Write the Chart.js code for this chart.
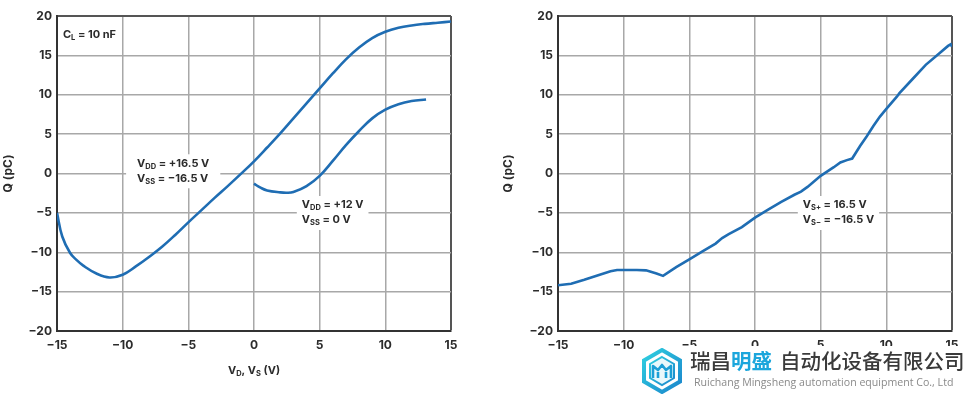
<!DOCTYPE html>
<html>
<head>
<meta charset="utf-8">
<script src="https://cdn.jsdelivr.net/npm/chart.js@4.4.1/dist/chart.umd.min.js"></script>
<style>
  html, body { margin: 0; padding: 0; background: #fff; }
  body { width: 969px; height: 395px; position: relative; overflow: hidden; font-family: Inter, sans-serif; }
  .panel { position: absolute; top: 0; height: 395px; }
  #leftPanel { left: 0; width: 470px; }
  #rightPanel { left: 500px; width: 469px; }
  #logo { position: absolute; left: 638px; top: 346px; width: 331px; height: 49px; background: #fff; }
  #logo svg { position: absolute; left: 1px; top: 2px; }
  #logoName { position: absolute; left: 52px; top: 2px; font-family: "Noto Sans CJK SC", sans-serif; font-size: 20.5px; line-height: 25px; color: #3a3a3a; white-space: nowrap; font-weight: 500; }
  #logoName .hl { color: #1ba6dc; font-weight: 700; margin-right: 8px; }
  #logoSub { position: absolute; left: 56px; top: 30px; font-family: "Open Sans", sans-serif; font-size: 10.6px; line-height: 13px; color: #8a8a8a; white-space: nowrap; }
</style>
</head>
<body>
<div class="panel" id="leftPanel"><canvas id="leftChart"></canvas></div>
<div class="panel" id="rightPanel"><canvas id="rightChart"></canvas></div>
<div id="logo">
  <svg width="46" height="46" viewBox="0 0 46 46">
    <defs>
      <linearGradient id="hexGrad" x1="0" y1="0" x2="1" y2="1">
        <stop offset="0" stop-color="#2fd0e0"/>
        <stop offset="1" stop-color="#1b86cc"/>
      </linearGradient>
    </defs>
    <polygon points="23,2 41,12.5 41,33.5 23,44 5,33.5 5,12.5" fill="none" stroke="url(#hexGrad)" stroke-width="4"/>
    <polygon points="23,9 35,16 35,30 23,37 11,30 11,16" fill="#e8f8fb" stroke="url(#hexGrad)" stroke-width="2"/>
    <path d="M14,30 L14,18 L19,22 L23,17 L27,22 L32,18 L32,30 M19,30 L19,24 M27,30 L27,24" fill="none" stroke="#1b9fd6" stroke-width="2.6" stroke-linejoin="round"/>
  </svg>
  <div id="logoName">瑞昌<span class="hl">明盛</span>自动化设备有限公司</div>
  <div id="logoSub">Ruichang Mingsheng automation equipment Co., Ltd</div>
</div>
<script>
// Carga inyectada Q vs V_D/V_S (dos gráficas)

// Gráfica izquierda: V_DD = +16.5 V / V_SS = -16.5 V
const dualX = [-15, -14.6, -14, -13.5, -13, -12, -11, -10, -9, -8, -7, -6, -5, -4, -3, -2, -1, 0, 1, 2, 3, 4, 5, 6, 7, 8, 9, 10, 11, 12, 13, 14, 15];
const dualQ = [-5.0, -8.0, -10.1, -11.0, -11.7, -12.7, -13.2, -12.85, -11.8, -10.6, -9.3, -7.8, -6.2, -4.65, -3.1, -1.6, -0.05, 1.55, 3.3, 5.1, 7.0, 8.9, 10.8, 12.7, 14.5, 16.0, 17.2, 18.0, 18.5, 18.8, 19.0, 19.15, 19.3];

// Gráfica izquierda: V_DD = +12 V / V_SS = 0 V
const singleX = [0, 0.5, 1, 2, 2.5, 3, 4, 5, 6, 7, 8, 9, 10, 11, 12, 13.1];
const singleQ = [-1.3, -1.8, -2.15, -2.4, -2.45, -2.35, -1.6, -0.3, 1.6, 3.6, 5.4, 7.0, 8.1, 8.8, 9.2, 9.4];

// Gráfica derecha: V_S+ = 16.5 V / V_S- = -16.5 V
const splitX = [-15, -14.5, -14, -13, -12, -11, -10.5, -10, -9, -8.3, -7.5, -7, -6, -5, -4, -3, -2.5, -2, -1, 0, 1, 2, 3, 3.5, 4, 5, 6, 6.5, 7, 7.4, 8, 8.5, 9, 9.5, 10, 10.8, 11, 12, 13, 14, 14.7, 14.9, 15];
const splitQ = [-14.2, -14.1, -14.0, -13.5, -12.95, -12.4, -12.25, -12.25, -12.25, -12.3, -12.7, -13.0, -11.9, -10.9, -9.9, -8.9, -8.2, -7.7, -6.8, -5.6, -4.6, -3.6, -2.7, -2.3, -1.7, -0.3, 0.8, 1.4, 1.7, 1.9, 3.5, 4.7, 6.0, 7.2, 8.2, 9.75, 10.2, 12.0, 13.8, 15.2, 16.2, 16.4, 16.1];

const xTicks = [-15, -10, -5, 0, 5, 10, 15];
const yTicks = [-20, -15, -10, -5, 0, 5, 10, 15, 20];

const lineColor = '#1f6db3';
const textColor = '#2b2b2b';
const gridColor = '#a8a8a8';
const edgeColor = '#555';
const noteFont = 'bold 11px Inter, sans-serif';
const noteSubFont = 'bold 7.5px Inter, sans-serif';

function toPoints(xs, ys) {
    return xs.map((x, i) => ({ x: x, y: ys[i] }));
}

function fmtTick(v) {
    return v < 0 ? '\u2212' + Math.abs(v) : String(v);
}

// Texto con subíndices: cada parte es [texto, esSub]
function drawRich(ctx, x, y, parts) {
    let cx = x;
    parts.forEach(p => {
        ctx.font = p[1] ? noteSubFont : noteFont;
        ctx.fillText(p[0], cx, p[1] ? y + 3 : y);
        cx += ctx.measureText(p[0]).width;
    });
    return cx - x;
}

function richWidth(ctx, parts) {
    let w = 0;
    parts.forEach(p => {
        ctx.font = p[1] ? noteSubFont : noteFont;
        w += ctx.measureText(p[0]).width;
    });
    return w;
}

function notesPlugin(notes, xTitle) {
    return {
        id: 'notes',
        beforeDatasetsDraw(chart) {
            const ctx = chart.ctx;
            const xs = chart.scales.x, ys = chart.scales.y;
            ctx.save();
            ctx.textBaseline = 'middle';
            ctx.textAlign = 'left';
            notes.forEach(n => {
                const left = xs.getPixelForValue(n.x);
                const y0 = ys.getPixelForValue(n.y);
                const w = Math.max(...n.lines.map(l => richWidth(ctx, l)));
                const h = n.lines.length * 15;
                if (n.box) {
                    ctx.fillStyle = '#fff';
                    ctx.fillRect(left - n.padX, y0 - 9, w + n.padX * 2, h + 4);
                }
                ctx.fillStyle = textColor;
                n.lines.forEach((l, i) => drawRich(ctx, left, y0 + i * 15, l));
            });
            ctx.restore();
        },
        afterDraw(chart) {
            if (!xTitle) return;
            const ctx = chart.ctx;
            const a = chart.chartArea;
            ctx.save();
            ctx.textBaseline = 'middle';
            ctx.textAlign = 'left';
            ctx.fillStyle = textColor;
            const w = richWidth(ctx, xTitle);
            drawRich(ctx, (a.left + a.right) / 2 - w / 2, 371, xTitle);
            ctx.restore();
        }
    };
}

function buildChart(id, datasets, yAxisWidth, padRight, notes, xTitle) {
    return new Chart(document.getElementById(id), {
        type: 'scatter',
        data: { datasets: datasets },
        options: {
            responsive: true,
            maintainAspectRatio: false,
            animation: false,
            layout: { padding: { left: 0, right: padRight, top: 16, bottom: 0 } },
            plugins: { legend: { display: false }, tooltip: { enabled: false } },
            scales: {
                x: {
                    type: 'linear',
                    min: -15,
                    max: 15,
                    afterBuildTicks: s => { s.ticks = xTicks.map(v => ({ value: v })); },
                    afterFit: s => { s.height = 64; },
                    ticks: {
                        callback: fmtTick,
                        color: textColor,
                        padding: 7,
                        maxRotation: 0,
                        font: { family: 'Inter', size: 12, weight: 'bold' }
                    },
                    grid: {
                        drawTicks: false,
                        color: c => (c.tick && c.tick.value === 15 ? edgeColor : gridColor),
                        lineWidth: c => (c.tick && c.tick.value === 15 ? 2 : 1.5)
                    },
                    border: { color: '#333', width: 2 }
                },
                y: {
                    type: 'linear',
                    min: -20,
                    max: 20,
                    afterBuildTicks: s => { s.ticks = yTicks.map(v => ({ value: v })); },
                    afterFit: s => { s.width = yAxisWidth; },
                    ticks: {
                        callback: fmtTick,
                        color: textColor,
                        padding: 5,
                        font: { family: 'Inter', size: 12, weight: 'bold' }
                    },
                    grid: {
                        drawTicks: false,
                        color: c => (c.tick && c.tick.value === 20 ? edgeColor : gridColor),
                        lineWidth: c => (c.tick && c.tick.value === 20 ? 2 : 1.5)
                    },
                    border: { color: '#333', width: 2 },
                    title: {
                        display: true,
                        text: 'Q (pC)',
                        color: textColor,
                        padding: { top: 1, bottom: 0 },
                        font: { family: 'Inter', size: 12, weight: 'bold' }
                    }
                }
            }
        },
        plugins: [notesPlugin(notes, xTitle)]
    });
}

function lineSet(xs, ys, tension) {
    return {
        data: toPoints(xs, ys),
        showLine: true,
        borderColor: lineColor,
        borderWidth: 2.6,
        pointRadius: 0,
        tension: tension
    };
}

document.addEventListener('DOMContentLoaded', function() {
    buildChart('leftChart', [
        lineSet(dualX, dualQ, 0.4),
        lineSet(singleX, singleQ, 0.4)
    ], 57, 19, [
        { x: -14.55, y: 17.6, box: false, padX: 0, lines: [[['C', false], ['L', true], [' = 10 nF', false]]] },
        { x: -8.9, y: 1.3, box: true, padX: 11, lines: [
            [['V', false], ['DD', true], [' = +16.5 V', false]],
            [['V', false], ['SS', true], [' = \u221216.5 V', false]]
        ] },
        { x: 3.64, y: -4.0, box: true, padX: 5, lines: [
            [['V', false], ['DD', true], [' = +12 V', false]],
            [['V', false], ['SS', true], [' = 0 V', false]]
        ] }
    ], [['V', false], ['D', true], [', V', false], ['S', true], [' (V)', false]]);

    buildChart('rightChart', [
        lineSet(splitX, splitQ, 0)
    ], 58, 17, [
        { x: 3.64, y: -4.0, box: true, padX: 5, lines: [
            [['V', false], ['S+', true], [' = 16.5 V', false]],
            [['V', false], ['S\u2212', true], [' = \u221216.5 V', false]]
        ] }
    ], null);
});
</script>
</body>
</html>
